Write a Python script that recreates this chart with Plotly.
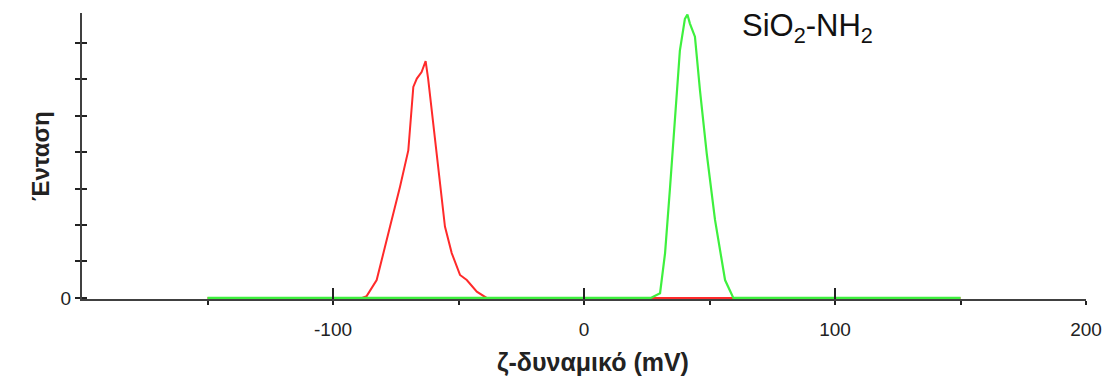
import plotly.graph_objects as go

# ζ-potential distributions (mV) and intensity (arbitrary units)
red_x = [-150, -88.4, -86.6, -82.6, -77.3, -73.3, -70.0, -68.0, -66.6, -64.7, -63.1,
         -62.1, -58.7, -55.4, -52.7, -49.4, -46.7, -42.7, -38.8, 150]
red_y = [0, 0, 0.05, 0.49, 1.95, 3.05, 4.05, 5.79, 6.02, 6.2, 6.5,
         6.02, 3.96, 1.96, 1.23, 0.63, 0.49, 0.17, 0, 0]

green_x = [-150, 26.6, 30.3, 32.3, 34.3, 36.3, 38.2, 40.2, 41.2, 42.2, 44.2,
           46.2, 48.9, 52.2, 56.2, 59.5, 150]
green_y = [0, 0, 0.13, 1.23, 3.05, 4.97, 6.79, 7.66, 7.78, 7.53, 7.17,
           5.7, 3.96, 2.14, 0.49, 0, 0]

x_tick_vals = [-150, -100, -50, 0, 50, 100, 150, 200]
x_tick_text = ["", "-100", "", "0", "", "100", "", "200"]
x_major_vals = [-100, 0, 100, 200]
y_tick_vals = [0, 1, 2, 3, 4, 5, 6, 7]
y_tick_text = ["0", "", "", "", "", "", "", ""]

FONT = "Arial, 'Liberation Sans', sans-serif"
AXIS_COL = "#404040"

fig = go.Figure()
fig.add_trace(go.Scatter(x=red_x, y=red_y, mode="lines",
                         line=dict(color="#ff2a2a", width=2), showlegend=False))
fig.add_trace(go.Scatter(x=green_x, y=green_y, mode="lines",
                         line=dict(color="#3ef03e", width=2.2), showlegend=False))
# helper trace for overlay axes (crossing ticks)
fig.add_trace(go.Scatter(x=[None], y=[None], xaxis="x2", yaxis="y2",
                         mode="lines", showlegend=False, hoverinfo="skip"))

xr = [-200, 200]
yr = [-0.03, 7.82]

fig.update_layout(
    width=1107, height=383,
    margin=dict(l=82, r=21, t=13, b=84),
    paper_bgcolor="white", plot_bgcolor="white",
    font=dict(family=FONT, color="#222222"),
    xaxis=dict(range=xr, showgrid=False, zeroline=False, automargin=False,
               showline=True, linecolor=AXIS_COL, linewidth=2,
               tickvals=x_tick_vals, ticktext=x_tick_text,
               ticks="outside", ticklen=4, tickwidth=1.5, tickcolor="#222",
               tickfont=dict(size=19, color="#222"), ticklabelstandoff=8),
    yaxis=dict(range=yr, showgrid=False, zeroline=False, automargin=False,
               showline=True, linecolor=AXIS_COL, linewidth=2,
               tickvals=y_tick_vals, ticktext=y_tick_text,
               ticks="outside", ticklen=5, tickwidth=1.5, tickcolor="#222",
               tickfont=dict(size=19, color="#222")),
    xaxis2=dict(range=xr, overlaying="x", anchor="y2", showgrid=False,
                automargin=False,
                zeroline=False, showline=False, tickvals=x_major_vals,
                ticks="inside", ticklen=11, tickwidth=1.5, tickcolor="#222",
                showticklabels=False),
    yaxis2=dict(range=yr, overlaying="y", anchor="x2", side="left",
                automargin=False,
                showgrid=False, zeroline=False, showline=False,
                tickvals=y_tick_vals, ticks="inside", ticklen=5,
                tickwidth=1.5, tickcolor="#222", showticklabels=False),
    annotations=[
        dict(text="<b>Ένταση</b>", xref="paper", yref="paper", x=0, y=0.5,
             xshift=-42, xanchor="center", yanchor="middle", textangle=-90,
             showarrow=False, font=dict(size=24, color="#222", family=FONT)),
        dict(text="<b>ζ-δυναμικό (mV)</b>", xref="paper", yref="paper",
             x=0.5, y=0, xshift=9, yshift=-63, xanchor="center",
             yanchor="middle", showarrow=False,
             font=dict(size=25, color="#222", family=FONT)),
        dict(text="SiO<sub>2</sub>-NH<sub>2</sub>", xref="x", yref="y",
             x=89, y=7.42, xanchor="center", yanchor="middle",
             showarrow=False, font=dict(size=31, color="#111", family=FONT)),
    ],
)

fig.write_html("out.html")
